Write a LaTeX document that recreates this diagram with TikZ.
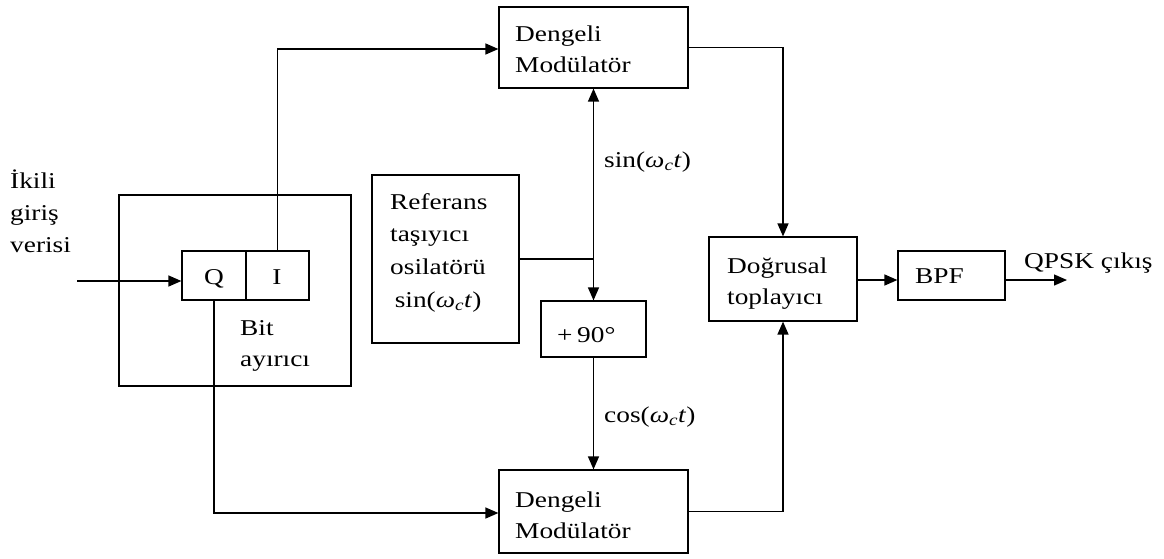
\documentclass[tikz,border=0pt]{standalone}
\usepackage{fontspec}
\setmainfont{Liberation Serif}
\usetikzlibrary{arrows.meta}
% widened serif text, one or more left-aligned rows, baseline on the first row
\newcommand\wide[1]{\scalebox{1.21}[1]{#1}}
\newcommand\txtrows[1]{\wide{\begin{tabular}[t]{@{}l@{}}#1\end{tabular}}}
\newcommand\wct{\textit{ω\textsubscript{c}t}}
\begin{document}
\begin{tikzpicture}[x=1pt,y=-1pt,
  box/.style={draw,line width=1.2pt,inner sep=0pt,minimum width=#1},
  lbl/.style={anchor=base west,inner sep=0pt,font=\fontsize{22.6}{31}\selectfont},
  conn/.style={line width=1.3pt},
  arr/.style={conn,-{Triangle[length=13pt,width=11pt]}}]
\useasboundingbox (0,0) rectangle (1164,558);

% blocks
\node[box=189pt,minimum height=81pt] (modA) at (593.5,47.5) {};
\node[box=189pt,minimum height=83pt] (modB) at (593.5,511.5) {};
\node[box=232pt,minimum height=191pt] (split) at (235,290.5) {};
\node[box=64pt,minimum height=49pt] (cq) at (214,275.5) {};
\node[box=63pt,minimum height=49pt] (ci) at (277.5,275.5) {};
\node[box=147pt,minimum height=168pt] (ref) at (445.5,259) {};
\node[box=105pt,minimum height=56pt] (shift) at (593.5,329) {};
\node[box=148pt,minimum height=84pt] (sum) at (783,279) {};
\node[box=107pt,minimum height=49pt] (bpf) at (951.5,275.5) {};

% texts
\node[lbl] (tA) at (515,41) {\txtrows{Dengeli\\Modülatör}};
\node[lbl] (tB) at (515,507) {\txtrows{Dengeli\\Modülatör}};
\node[lbl,anchor=base] (tq) at (214,284) {\wide{Q}};
\node[lbl,anchor=base] (ti) at (277,284) {\wide{I}};
\node[lbl] (tsplit) at (240,335) {\txtrows{Bit\\ayırıcı}};
\node[lbl,font=\fontsize{22.6}{32}\selectfont] (tin) at (10,188) {\txtrows{İkili\\giriş\\verisi}};
\node[lbl,font=\fontsize{22.6}{32.7}\selectfont] (tref) at (390,209) {\txtrows{Referans\\taşıyıcı\\osilatörü\\\,sin(\wct)}};
\node[lbl] (tshift) at (557,342) {\wide{+\,90°}};
\node[lbl] (tsum) at (727,273) {\txtrows{Doğrusal\\toplayıcı}};
\node[lbl] (tbpf) at (915,283) {\wide{BPF}};
\node[lbl] (tsin) at (604,167) {\wide{sin(\wct)}};
\node[lbl] (tcos) at (604,422) {\wide{cos(\wct)}};
\node[lbl] (tout) at (1024,268) {\wide{QPSK çıkış}};

% free ends and junction
\coordinate (in) at (77,281);
\coordinate (out) at (1067,280);
\coordinate (jn) at (modA.south |- ref.east);

% connectors
\draw[arr] (in) -- (in -| cq.west);
\draw[arr] (ci.north) -- (ci.north |- 0,49) -- (modA.west |- 0,49);
\draw[arr] (cq.south) -- (cq.south |- 0,513) -- (modB.west |- 0,513);
\draw[conn] (ref.east) -- (jn);
\draw[arr] (jn) -- (modA.south);
\draw[arr] (jn) -- (shift.north);
\draw[arr] (shift.south) -- (modB.north);
\draw[arr] (modA.east) -- (modA.east -| sum.north) -- (sum.north);
\draw[arr] (modB.east) -- (modB.east -| sum.south) -- (sum.south);
\draw[arr] (sum.east |- out) -- (bpf.west |- out);
\draw[arr] (bpf.east |- out) -- (out);
\end{tikzpicture}
\end{document}
